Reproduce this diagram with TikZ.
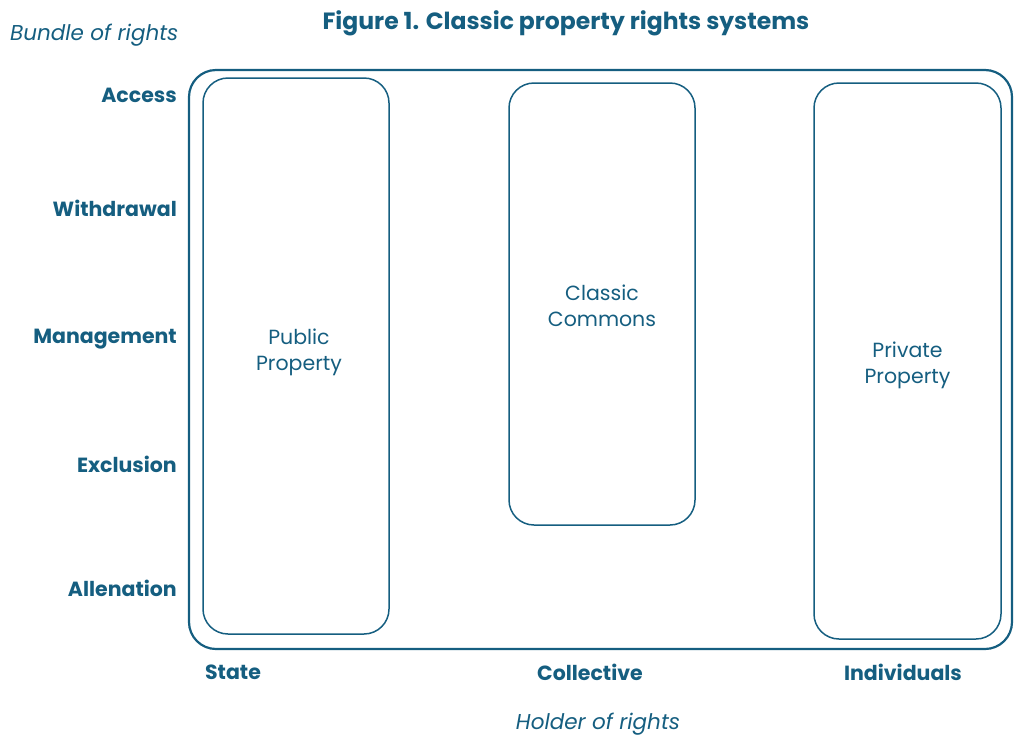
\documentclass[tikz,border=0pt]{standalone}
\usepackage{fontspec}
\setmainfont{Poppins}
\usetikzlibrary{positioning}
\definecolor{rightsblue}{RGB}{21,94,128}

\begin{document}
\begin{tikzpicture}[x=1pt, y=-1pt, color=rightsblue,
		rowlabel/.style={anchor=east, font=\fontsize{20.5}{24}\selectfont\bfseries, inner sep=0},
		collabel/.style={anchor=center, font=\fontsize{20.5}{24}\selectfont\bfseries, inner sep=0},
		axislabel/.style={font=\fontsize{21.5}{24}\selectfont\itshape, inner sep=0},
		holderbox/.style={draw, line width=1.5pt, rounded corners=25pt, inner sep=0},
		boxtext/.style={align=center, font=\fontsize{20.5}{26}\selectfont, inner sep=0}]
			\useasboundingbox (0, 0) rectangle (1017, 737);
			
			% title and axes
			\node[font=\fontsize{23.5}{26}\selectfont\bfseries, inner sep=0] (title) at (566, 23) {Figure 1. Classic property rights systems};
			\node[axislabel, anchor=west] (bundle) at (10, 35) {Bundle of rights};
			\node[axislabel] (holder) at (598, 724) {Holder of rights};
			
			\draw[line width=2.2pt, rounded corners=27pt] (189, 70) rectangle (1012, 649);
			
			\node[holderbox, minimum width=186pt, minimum height=556pt] (public) at (296, 356) {};
			\node[holderbox, minimum width=186pt, minimum height=442pt] (commons) at (602, 304) {};
			\node[holderbox, minimum width=187pt, minimum height=556pt] (private) at (907.5, 361) {};
			
			\node[boxtext] (publictext) at (299, 352) {Public\\Property};
			\node[boxtext] (commonstext) at (602, 306) {Classic\\Commons};
			\node[boxtext] (privatetext) at (907.5, 365) {Private\\Property};
			
			\node[rowlabel] (access) at (177, 95) {Access};
			\node[rowlabel] (withdrawal) at (177, 208) {Withdrawal};
			\node[rowlabel] (management) at (177, 339) {Management};
			\node[rowlabel] (exclusion) at (177, 464) {Exclusion};
			\node[rowlabel] (alienation) at (177, 588) {Allenation};
			
			\node[collabel] (state) at (233, 672) {State};
			\node[collabel] (collective) at (590, 672) {Collective};
			\node[collabel] (individuals) at (903, 672) {Individuals};
			
		\end{tikzpicture}
\end{document}
